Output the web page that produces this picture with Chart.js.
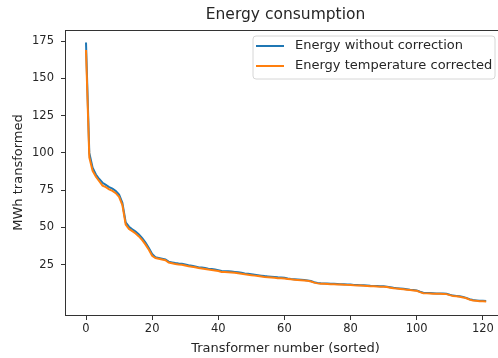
<!DOCTYPE html>
<html>
<head>
<meta charset="utf-8">
<title>Energy consumption</title>
<script src="https://cdn.jsdelivr.net/npm/chart.js@4.4.0/dist/chart.umd.min.js"></script>
<style>
  html, body { margin: 0; padding: 0; background: #fff; overflow: hidden; }
  #wrap { width: 498px; height: 358px; overflow: hidden; }
</style>
</head>
<body>
<div id="wrap"><canvas id="energyChart" width="510" height="358"></canvas></div>
<script>
// values, one per transformer (sorted, index 0..121)
const seriesLabels = ['Energy without correction', 'Energy temperature corrected'];

const energyRaw = [
  174, 100, 90, 85.5, 82.5, 80, 78.5, 77, 76, 74.5,
  72, 66.5, 53.5, 50.5, 48.8, 47.2, 45.3, 42.8, 39.8, 36.3,
  32.2, 30.1, 29.6, 29.1, 28.6, 27.1, 26.6, 26.1, 25.8, 25.6,
  25.1, 24.6, 24.3, 23.9, 23.4, 23.1, 22.8, 22.4, 22.1, 21.8,
  21.4, 20.8, 20.7, 20.6, 20.4, 20.2, 19.9, 19.6, 19.2, 18.9,
  18.6, 18.3, 18, 17.7, 17.4, 17.2, 17, 16.8, 16.6, 16.5,
  16.3, 15.8, 15.5, 15.3, 15.1, 14.9, 14.7, 14.5, 14.1, 13.3,
  12.8, 12.6, 12.5, 12.4, 12.3, 12.2, 12.1, 12, 11.9, 11.8,
  11.7, 11.5, 11.4, 11.3, 11.2, 11.1, 10.9, 10.8, 10.7, 10.6,
  10.5, 10.3, 9.9, 9.5, 9.3, 9.1, 8.9, 8.6, 8.3, 8.1,
  7.8, 6.9, 6.2, 6.1, 6, 5.9, 5.8, 5.8, 5.7, 5.6,
  4.9, 4.3, 4.1, 3.8, 3.4, 2.8, 1.9, 1.3, 1.1, 0.9,
  0.8, 0.7
];

const energyCorrected = [
  169, 97, 88, 84, 81, 78, 77, 75.5, 74.5, 73,
  70.5, 65, 52, 49, 47.5, 46, 44, 41.5, 38.5, 35,
  31, 29.5, 29, 28.5, 28, 26.5, 26, 25.5, 25.2, 25,
  24.5, 24, 23.7, 23.3, 22.8, 22.5, 22.2, 21.8, 21.5, 21.2,
  20.8, 20.2, 20.1, 20, 19.8, 19.6, 19.3, 19, 18.6, 18.3,
  18, 17.7, 17.4, 17.1, 16.8, 16.6, 16.4, 16.2, 16, 15.9,
  15.7, 15.5, 15.2, 15, 14.8, 14.6, 14.4, 14.2, 13.8, 13,
  12.5, 12.3, 12.2, 12.1, 12, 11.9, 11.8, 11.7, 11.6, 11.5,
  11.4, 11.2, 11.1, 11, 10.9, 10.8, 10.6, 10.5, 10.4, 10.3,
  10.2, 10, 9.6, 9.2, 9, 8.8, 8.6, 8.3, 8, 7.8,
  7.5, 6.6, 5.9, 5.8, 5.7, 5.6, 5.5, 5.5, 5.4, 5.3,
  4.6, 4, 3.8, 3.5, 3.1, 2.5, 1.6, 1, 0.8, 0.6,
  0.5, 0.4
];

const xTicks = [0, 20, 40, 60, 80, 100, 120];
const yTicks = [25, 50, 75, 100, 125, 150, 175];

const colors = ['#1f77b4', '#ff7f0e'];
const font = 'DejaVu Sans';
const ink = '#262626';

// matplotlib-like box + legend inside the axes
const framePlugin = {
  id: 'frame',
  afterDraw(chart) {
    const ctx = chart.ctx;
    const a = chart.chartArea;
    ctx.save();
    ctx.strokeStyle = '#333';
    ctx.lineWidth = 1;
    ctx.strokeRect(a.left + 0.5, a.top + 0.5, a.right - a.left, a.bottom - a.top);

    // legend box
    const bx = 253, by = 36, bw = 242, bh = 43, r = 3;
    ctx.beginPath();
    ctx.moveTo(bx + r, by);
    ctx.arcTo(bx + bw, by, bx + bw, by + bh, r);
    ctx.arcTo(bx + bw, by + bh, bx, by + bh, r);
    ctx.arcTo(bx, by + bh, bx, by, r);
    ctx.arcTo(bx, by, bx + bw, by, r);
    ctx.closePath();
    ctx.fillStyle = 'rgba(255,255,255,0.8)';
    ctx.fill();
    ctx.strokeStyle = '#d6d6d6';
    ctx.stroke();

    ctx.font = '13px "' + font + '"';
    ctx.textBaseline = 'middle';
    ctx.textAlign = 'left';
    chart.data.datasets.forEach((ds, i) => {
      const y = 46 + i * 20;
      ctx.strokeStyle = ds.borderColor;
      ctx.lineWidth = 2;
      ctx.beginPath();
      ctx.moveTo(256, y);
      ctx.lineTo(284, y);
      ctx.stroke();
      ctx.fillStyle = ink;
      ctx.fillText(ds.label, 295, y);
    });
    ctx.restore();
  }
};

new Chart(document.getElementById('energyChart'), {
  type: 'line',
  data: {
    datasets: [
      {
        label: seriesLabels[0],
        data: energyRaw.map((v, i) => ({ x: i, y: v })),
        borderColor: colors[0],
        borderWidth: 2,
        order: 2
      },
      {
        label: seriesLabels[1],
        data: energyCorrected.map((v, i) => ({ x: i, y: v })),
        borderColor: colors[1],
        borderWidth: 2,
        order: 1
      }
    ]
  },
  options: {
    responsive: false,
    animation: false,
    layout: { padding: { left: 0, right: 4, top: 0, bottom: 0 } },
    elements: {
      point: { radius: 0 },
      line: { tension: 0, fill: false }
    },
    plugins: {
      legend: { display: false },
      tooltip: { enabled: false },
      title: {
        display: true,
        text: 'Energy consumption',
        fullSize: false,
        color: ink,
        font: { family: font, size: 15.5, weight: 'normal' },
        padding: { top: 6, bottom: 5.4 }
      }
    },
    scales: {
      x: {
        type: 'linear',
        min: -6.35,
        max: 127,
        afterFit: s => { s.height = 43; },
        afterBuildTicks: s => { s.ticks = xTicks.map(v => ({ value: v })); },
        grid: { drawOnChartArea: false, tickLength: 5, tickColor: '#333' },
        border: { color: '#333' },
        ticks: { color: ink, padding: 2, maxRotation: 0, font: { family: font, size: 11.5 } },
        title: {
          display: true,
          text: 'Transformer number (sorted)',
          color: ink,
          font: { family: font, size: 13 },
          padding: { top: 0, bottom: 2 }
        }
      },
      y: {
        type: 'linear',
        min: -8.7,
        max: 182.4,
        afterFit: s => { s.width = 65; },
        afterBuildTicks: s => { s.ticks = yTicks.map(v => ({ value: v })); },
        grid: { drawOnChartArea: false, tickLength: 4, tickColor: '#333' },
        border: { color: '#333' },
        ticks: { color: ink, padding: 7, font: { family: font, size: 11.5 } },
        title: {
          display: true,
          text: 'MWh transformed',
          color: ink,
          font: { family: font, size: 13 },
          padding: { top: 11, bottom: 0 }
        }
      }
    }
  },
  plugins: [framePlugin]
});
</script>
</body>
</html>
